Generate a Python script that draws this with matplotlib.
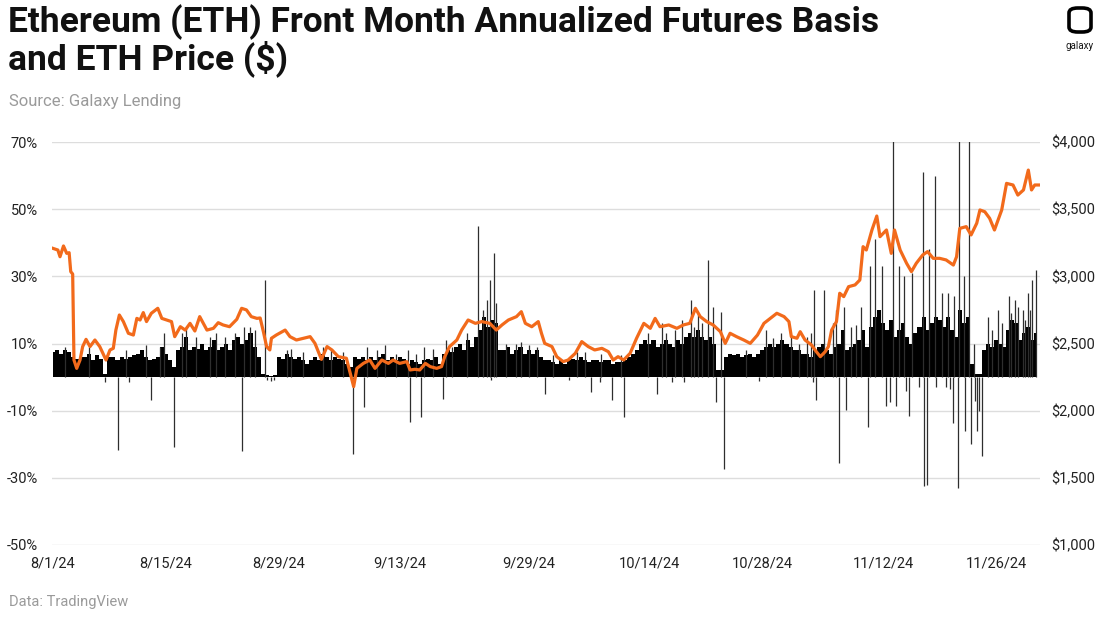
import numpy as np
import pandas as pd
import matplotlib
matplotlib.use("Agg")
import matplotlib.pyplot as plt
from matplotlib.patches import FancyBboxPatch

plt.rcParams['font.family'] = ['Roboto', 'DejaVu Sans']

start = pd.Timestamp("2024-08-01")

# front month annualized basis (%), sampled every 12 hours from 8/1/24
basis_values = [
    7.5, 8, 7, 8, 7.5, 6, 5.5, 6, 6, 7,            # d0-4
    5, 6.5, 5.5, 1, 6, 6, 5, 6, 5.5, 6,            # d5-9
    6.5, 7, 8, 6, 5, 5.5, 6, 9, 7, 5,              # d10-14
    3, 8, 9, 12, 8, 9, 8.5, 10, 8, 9,              # d15-19
    11, 8, 9, 10, 8, 11, 12, 10, 11, 13,           # d20-24
    9, 6, 1, 0.5, 0.3, 0.5, 6, 5.5, 7, 6,          # d25-29
    5.5, 6, 5, 4, 5, 6, 5, 7, 6, 5,                # d30-34
    6, 5.5, 5, 4, 3, 6, 5.5, 6, 5, 6,              # d35-39
    5, 6, 7, 5, 6, 5, 6, 5.5, 4, 5,                # d40-44
    4.5, 4, 5, 5.5, 5, 6, 4, 7, 8, 7.5,            # d45-49
    9, 10, 8, 11, 9, 12, 14, 18, 15, 17,           # d50-54
    16, 8, 8, 9, 7, 8, 9, 7, 8, 7,                 # d55-59
    8, 6, 5, 5, 4.5, 4, 5, 4, 5, 5.5,              # d60-64
    5, 6, 5, 4.5, 5, 5, 4.5, 5, 5, 4,              # d65-69
    4.5, 4.5, 5, 6, 7, 8, 10, 11, 10, 11,          # d70-74
    9, 10, 11, 10, 9, 11, 10, 12, 13, 12,          # d75-79
    14, 12, 11, 12, 10, 2, 2, 6, 7, 6.5,           # d80-84
    7, 6, 6.5, 7, 6, 7, 8, 9, 10, 9,               # d85-89
    10, 11, 10, 9, 8, 8, 7, 7, 6, 8,               # d90-94
    9, 10, 8, 7, 9, 10, 14, 8, 9, 10,              # d95-99
    11, 14, 9, 15, 18, 20, 16, 14, 17, 12,         # d100-104
    14, 16, 12, 10, 13, 15, 18, 14, 16, 18,        # d105-109
    17, 15, 18, 14, 12, 20, 16, 18, 4, 1,          # d110-114
    1, 8, 10, 9, 11, 10, 9, 14, 17, 16,            # d115-119
    11, 13, 15, 11, 13,                            # d120-122
]

# short-lived basis spikes: day offset from 8/1/24 and value (%)
spike_day = [
    1.5, 4.5, 9.0, 11.5, 13.3, 16.0, 17.8, 19.5, 21.3, 22.6,
    29.0, 31.0, 34.5, 36.0, 40.2, 42.5, 45.0, 47.2, 56.2, 58.0,
    59.0, 60.0, 62.0, 65.0, 68.0, 70.5, 73.8, 76.0, 77.2, 79.5,
    80.5, 86.0, 89.3, 90.3, 91.5, 92.5, 116.5, 117.7, 118.9, 119.7,
    120.6, 121.2,
    13.8, 16.5, 20.2, 23.7, 24.5, 25.0, 26.3, 29.5, 33.5, 38.9,
    41.2, 44.0, 46.0, 48.7, 49.5, 51.3, 52.7, 53.4, 53.9, 54.2,
    54.75, 55.0, 57.5, 66.0, 75.6, 78.0, 79.1, 80.0, 81.3, 81.9,
    82.9, 88.5, 93.5, 94.0, 94.4, 95.7, 96.8, 97.2, 98.1, 99.0,
    99.6, 100.2, 101.4, 102.0, 102.9, 104.2, 105.0, 105.6, 106.6, 107.9,
    108.7, 109.4, 110.3, 111.0, 111.8, 112.4, 113.0, 113.6, 114.2, 116.0,
    117.2, 118.6, 119.3, 120.3, 120.9, 121.4, 121.9,
    6.5, 8.1, 9.4, 12.2, 15.05, 23.5, 26.6, 27.0, 27.4, 37.2,
    38.6, 44.3, 45.6, 48.4, 54.4, 61.1, 64.0, 66.7, 67.9, 69.35,
    70.9, 74.9, 76.8, 78.3, 82.2, 83.2, 87.6, 94.3, 94.7, 97.5,
    98.4, 101.1, 103.4, 103.8, 104.6, 105.8, 106.2, 107.4, 108.1, 108.4,
    109.6, 110.8, 111.3, 111.7, 112.3, 113.1, 113.9, 114.4, 114.6, 114.9,
    115.2,
]
spike_value = [
    9, 9, 8, 9.5, 9, 13, 12, 12, 12, 13,
    8, 7.5, 8, 7.5, 8, 7, 7, 8.5, 10, 10.5,
    9.5, 9, 6.5, 7.5, 7, 6.5, 13, 13, 14, 15,
    16, 8, 11.5, 13, 12, 10, 14, 16, 19, 21,
    17, 20,
    13, 14.5, 13, 15, 15, 14, 29, 8.5, 9, 9,
    9.5, 8, 9, 11, 9, 13, 45, 20, 23, 29,
    37, 22, 10, 7.5, 16, 17, 23, 19, 35, 21,
    19.5, 14, 12, 13, 26, 26, 16, 20, 21, 15,
    15.5, 21, 33, 41, 33, 72, 33, 30, 31, 61,
    38, 60, 25, 25, 24, 72, 30, 72, 10, 18,
    20, 24, 23, 20, 25, 29, 32,
    -1.5, -21.7, -1.5, -6.8, -20.7, -22, -1, -1.2, -1, -23,
    -8.8, -13.3, -11.8, -6.5, -1, -4.9, -1, -4.4, -1.6, -6.8,
    -11.8, -4.9, -1.4, -1.5, -7.3, -27.5, -1.2, -1.5, -6.8, -25.7,
    -9.7, -15, -8.5, -7.5, -8.7, -4, -11.7, -3, -32.5, -32,
    -3, -3, -3.5, -13.7, -33, -16, -20, -7, -16, -10,
    -23.6,
]

# ETH price ($): day offset from 8/1/24 and price
price_day = [
    0, 0.6, 0.87, 1.3, 1.7, 2.0, 2.2, 2.44, 2.6, 2.94,
    3.35, 3.68, 4.1, 4.59, 5.2, 5.8, 6.58, 7.07, 7.48, 7.8,
    8.23, 8.73, 9.35, 9.97, 10.4, 10.8, 11.2, 11.6, 12.2, 13.0,
    13.5, 14.1, 14.7, 15.1, 15.8, 16.4, 17.0, 17.6, 18.2, 19.1,
    19.9, 20.5, 21.1, 21.9, 22.8, 23.4, 24.0, 24.6, 25.3, 25.7,
    26.1, 26.5, 26.9, 27.1, 27.7, 28.8, 29.4, 30.2, 31.1, 31.9,
    32.5, 33.3, 34.0, 34.6, 35.4, 36.4, 37.3, 37.7, 38.5, 39.3,
    39.95, 40.8, 41.6, 42.2, 43.0, 43.9, 44.3, 44.9, 45.5, 46.2,
    46.8, 47.6, 48.2, 48.6, 49.2, 50.1, 50.7, 51.5, 52.4, 53.2,
    54.2, 55.0, 55.7, 56.5, 57.5, 58.1, 58.6, 59.4, 60.2, 60.6,
    61.0, 61.9, 62.5, 63.3, 63.9, 64.8, 65.6, 66.4, 67.2, 68.1,
    68.9, 69.5, 70.1, 70.8, 71.6, 72.4, 73.3, 74.1, 74.7, 75.3,
    76.4, 77.4, 78.2, 79.0, 79.7, 80.3, 81.1, 81.9, 82.8, 83.4,
    84.0, 84.8, 85.7, 86.5, 87.4, 88.2, 89.0, 89.8, 90.7, 91.3,
    91.6, 92.3, 92.7, 93.3, 94.1, 94.7, 95.2, 95.8, 96.2, 96.6,
    97.2, 97.6, 98.1, 98.7, 99.5, 100.1, 100.5, 100.9, 101.6, 102.2,
    102.6, 103.4, 104.0, 104.4, 105.1, 105.9, 106.5, 107.1, 107.9, 108.5,
    109.2, 110.0, 110.8, 111.7, 112.1, 112.5, 113.3, 113.9, 114.6, 115.0,
    115.6, 116.2, 116.8, 117.7, 118.3, 119.1, 119.7, 120.4, 121.0, 121.4,
    121.8, 122.3,
]
price_value = [
    3208, 3196, 3146, 3226, 3171, 3176, 3035, 3017, 2377, 2315,
    2377, 2477, 2531, 2477, 2526, 2477, 2377, 2452, 2464, 2600,
    2712, 2663, 2576, 2563, 2687, 2675, 2730, 2663, 2725, 2762,
    2687, 2675, 2663, 2551, 2625, 2600, 2650, 2593, 2700, 2600,
    2613, 2655, 2638, 2625, 2680, 2762, 2750, 2700, 2687, 2690,
    2588, 2477, 2452, 2539, 2563, 2600, 2551, 2526, 2539, 2551,
    2501, 2382, 2477, 2452, 2402, 2390, 2179, 2315, 2352, 2377,
    2315, 2377, 2352, 2377, 2352, 2365, 2303, 2308, 2303, 2352,
    2328, 2315, 2328, 2402, 2477, 2526, 2600, 2675, 2650, 2663,
    2650, 2600, 2638, 2675, 2700, 2737, 2650, 2625, 2663, 2576,
    2501, 2477, 2402, 2365, 2377, 2427, 2514, 2477, 2452, 2464,
    2439, 2377, 2402, 2377, 2427, 2539, 2650, 2613, 2687, 2625,
    2638, 2613, 2638, 2650, 2762, 2700, 2663, 2638, 2588, 2501,
    2576, 2551, 2526, 2501, 2563, 2650, 2687, 2725, 2700, 2663,
    2551, 2539, 2588, 2526, 2489, 2439, 2402, 2439, 2477, 2600,
    2663, 2874, 2849, 2923, 2936, 2973, 3221, 3196, 3345, 3449,
    3295, 3345, 3171, 3345, 3196, 3097, 3035, 3097, 3159, 3184,
    3134, 3134, 3122, 3084, 3146, 3357, 3370, 3308, 3395, 3494,
    3481, 3432, 3345, 3494, 3692, 3680, 3605, 3643, 3791, 3643,
    3680, 3680,
]

tick_labels = ["8/1/24", "8/15/24", "8/29/24", "9/13/24", "9/29/24",
               "10/14/24", "10/28/24", "11/12/24", "11/26/24"]

basis_dates = start + pd.to_timedelta(np.arange(len(basis_values)) * 12, unit="h")
spike_dates = start + pd.to_timedelta(spike_day, unit="D")
price_dates = start + pd.to_timedelta(price_day, unit="D")
tick_dates = [pd.Timestamp(f"{t[:-2]}20{t[-2:]}") for t in tick_labels]

fig = plt.figure(figsize=(11, 6.17), dpi=100)
ax = fig.add_axes([52 / 1100, 1 - 545 / 617, (1040 - 52) / 1100, (545 - 142) / 617])
ax2 = ax.twinx()

ax.fill_between(basis_dates, 0, basis_values, step="mid", color="black",
                linewidth=0, zorder=2)
ax.vlines(spike_dates, 0, spike_value, colors="#2e2e2e", linewidth=0.9, zorder=2)
ax2.plot(price_dates, price_value, color="#F26A1B", linewidth=2.3, zorder=3)

ax.set_ylim(-50, 70)
ax.set_yticks(np.arange(-50, 71, 20))
ax.set_yticklabels([f"{v}%" for v in range(-50, 71, 20)])
ax2.set_ylim(1000, 4000)
ax2.set_yticks(np.arange(1000, 4001, 500))
ax2.set_yticklabels([f"${v:,}" for v in range(1000, 4001, 500)])
ax.set_xlim(start - pd.Timedelta(hours=3), start + pd.Timedelta(days=122.45))
ax.set_xticks(tick_dates)
ax.set_xticklabels(tick_labels)

ax.grid(axis="y", color="#dddddd", linewidth=1.0, zorder=0)
ax.set_axisbelow(True)
for a in (ax, ax2):
    for s in a.spines.values():
        s.set_visible(False)
    a.tick_params(length=0, labelsize=10.5, colors="#222222")
ax.tick_params(axis="y", pad=10)
ax.tick_params(axis="x", pad=8)
ax2.tick_params(axis="y", pad=8)

fig.text(0.007, 0.993, "Ethereum (ETH) Front Month Annualized Futures Basis\nand ETH Price ($)",
         fontsize=25.5, fontweight="bold", va="top", ha="left", linespacing=1.02, color="#111111")
fig.text(0.008, 0.835, "Source: Galaxy Lending", fontsize=12, color="#9a9a9a", va="center")
fig.text(0.008, 0.025, "Data: TradingView", fontsize=10.5, color="#9a9a9a", va="center")

# galaxy logo
logo = FancyBboxPatch((1069 / 1100, 1 - 32 / 617), 22 / 1100, 24 / 617,
                      boxstyle="round,pad=0,rounding_size=0.008",
                      transform=fig.transFigure, fill=False, edgecolor="black", linewidth=2.6)
fig.patches.append(logo)
fig.text(1080 / 1100, 1 - 46 / 617, "galaxy", fontsize=7, ha="center", va="center", color="#111111")

fig.savefig("out.png", dpi=100)
